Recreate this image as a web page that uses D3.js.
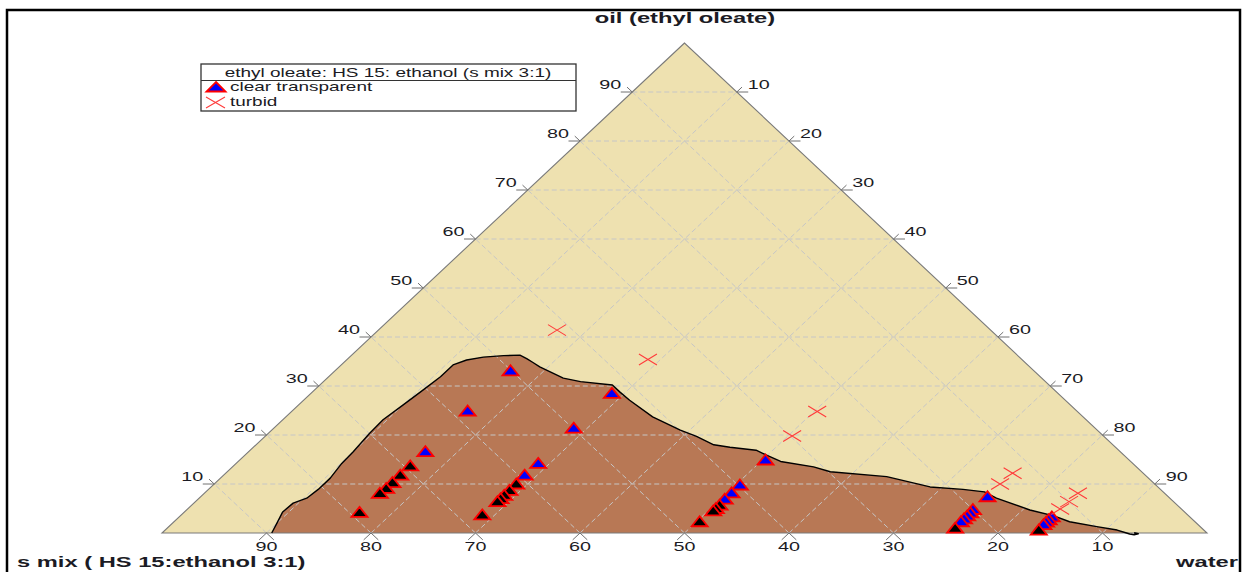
<!DOCTYPE html>
<html>
<head>
<meta charset="utf-8">
<script src="https://cdn.jsdelivr.net/npm/d3@7/dist/d3.min.js"></script>
<style>
  html, body { margin: 0; padding: 0; background: #ffffff; }
  svg { display: block; }
</style>
</head>
<body>
<svg id="chart" width="1249" height="572"></svg>
<script>
// Compositions are [oil %, water %]; s mix % = 100 - oil - water.

// Grid / tick levels shared by all three axes
const tickValues = [10, 20, 30, 40, 50, 60, 70, 80, 90];

// Axis and legend texts
const apexLabel = "oil (ethyl oleate)";
const leftLabel = "s mix ( HS 15:ethanol 3:1)";
const rightLabel = "water";
const legendTitle = "ethyl oleate: HS 15: ethanol (s mix 3:1)";
const legendItems = ["clear transparent", "turbid"];

// Boundary of the clear (single-phase) region, from the s mix side to the water side
const boundary = [
  [0, 10.5], [2.0, 10.0], [4.3, 9.4], [6.1, 9.5], [7.1, 10.3], [8.9, 10.5],
  [11.2, 10.5], [14.2, 10.1], [16.6, 10.0], [20.3, 9.7], [23.1, 9.6], [26.1, 10.0],
  [29.2, 10.4], [31.9, 10.7], [34.3, 10.7], [35.3, 11.5], [35.9, 12.8], [36.2, 14.6],
  [36.3, 16.1], [35.6, 17.1], [34.8, 18.1], [33.9, 19.2], [31.6, 22.6], [30.9, 24.6],
  [30.2, 28.0], [28.8, 29.4], [27.1, 31.2], [23.7, 35.1], [21.0, 39.1], [19.7, 41.3],
  [18.0, 43.8], [17.5, 45.6], [16.9, 48.4], [15.9, 49.9], [14.6, 51.9], [13.5, 55.6],
  [12.5, 57.7], [11.5, 63.6], [9.4, 68.8], [8.9, 72.2], [8.4, 74.5], [7.1, 76.3],
  [4.7, 80.7], [3.5, 83.6], [2.3, 85.7], [1.3, 88.8], [0.6, 91.1], [0, 92.3]
];
// small curl where the boundary line ends on the base
const boundaryTail = [[0, 92.3], [-0.2, 92.7], [-0.35, 93.2], [-0.15, 93.5], [0.05, 93.0]];

// Clear transparent formulations (blue)
const clearTransparent = [
  [33.1, 16.8], [24.9, 16.8], [16.6, 16.9],
  [28.5, 28.8], [21.4, 28.7], [14.2, 28.9], [11.8, 28.8],
  [14.9, 50.3], [9.8, 50.4], [8.2, 50.4], [6.9, 50.4],
  [7.4, 75.3], [4.8, 75.2], [4.1, 75.3], [3.5, 75.3], [2.9, 75.3], [2.3, 75.3],
  [3.3, 83.5], [2.7, 83.5], [2.2, 83.5], [1.7, 83.5]
];

// Clear formulations plotted in black
const clearDark = [
  [13.7, 16.9], [11.8, 16.9], [10.3, 16.9], [9.1, 16.9], [8.1, 16.8], [4.2, 16.8],
  [10.0, 28.9], [8.7, 28.9], [7.7, 28.9], [7.0, 28.9], [6.4, 28.9], [3.7, 28.8],
  [5.7, 50.5], [5.0, 50.5], [4.5, 50.5], [2.3, 50.3],
  [1.0, 75.4], [0.6, 83.6]
];

// Turbid formulations (red crosses)
const turbid = [
  [41.4, 17.1], [35.4, 28.8], [24.8, 50.3], [19.8, 50.4],
  [12.2, 75.3], [10.0, 75.2], [8.1, 83.6], [6.4, 83.6], [4.9, 83.5]
];

// ---------------------------------------------------------------------------
const svg = d3.select("#chart");
const SX = 1.58;                       // horizontal stretch applied to all text
const textColor = "#1b1b24";

// Ternary → screen: horizontal runs with water + oil/2, vertical with oil
const x = d3.scaleLinear().domain([0, 100]).range([162, 1207]);
const y = d3.scaleLinear().domain([0, 100]).range([533, 43]);
const pt = (oil, water) => [x(water + oil / 2), y(oil)];

function addText(g, px, py, str, anchor, size, weight) {
  return g.append("text")
    .attr("transform", `translate(${px},${py}) scale(${SX},1)`)
    .attr("text-anchor", anchor)
    .attr("dy", "0.35em")
    .attr("font-family", "'Liberation Sans', Arial, sans-serif")
    .attr("font-size", size)
    .attr("font-weight", weight || "normal")
    .attr("fill", textColor)
    .text(str);
}

// Outer frame
svg.append("path")
  .attr("d", "M7,600 L7,10 L1240,10 L1240,600")
  .attr("fill", "none").attr("stroke", "#000").attr("stroke-width", 2.5);

// Triangle background
const corners = [pt(100, 0), pt(0, 0), pt(0, 100)];
svg.append("path")
  .attr("d", "M" + corners.join("L") + "Z")
  .attr("fill", "#eee1b0");

// Clear region
const line = d3.line().x(d => pt(d[0], d[1])[0]).y(d => pt(d[0], d[1])[1]);
svg.append("path")
  .attr("d", line(boundary) + "Z")
  .attr("fill", "#b87855");

// Dashed grid: constant oil, constant water, constant s mix
const grid = svg.append("g")
  .attr("stroke", "#c6c6c6").attr("stroke-width", 1)
  .attr("stroke-dasharray", "5,3").attr("fill", "none");
tickValues.forEach(v => {
  const segs = [
    [pt(v, 0), pt(v, 100 - v)],
    [pt(0, v), pt(100 - v, v)],
    [pt(0, 100 - v), pt(100 - v, 0)]
  ];
  segs.forEach(s => grid.append("line")
    .attr("x1", s[0][0]).attr("y1", s[0][1])
    .attr("x2", s[1][0]).attr("y2", s[1][1]));
});

// Triangle edges
svg.append("path")
  .attr("d", "M" + corners.join("L") + "Z")
  .attr("fill", "none").attr("stroke", "#7a7a7a").attr("stroke-width", 1.1);

// Boundary line
svg.append("path")
  .attr("d", line(boundary.concat(boundaryTail.slice(1))))
  .attr("fill", "none").attr("stroke", "#000").attr("stroke-width", 1.4)
  .attr("stroke-linejoin", "round");

// Ticks: short outward extensions of the grid lines at each edge
const ticks = svg.append("g").attr("stroke", "#707070").attr("stroke-width", 1).attr("fill", "none");
const labels = svg.append("g");
function tick(a, b) {
  ticks.append("line").attr("x1", a[0]).attr("y1", a[1]).attr("x2", b[0]).attr("y2", b[1]);
}
tickValues.forEach(v => {
  // left edge (oil axis)
  const L = pt(v, 0);
  tick(L, pt(v, -1.1));
  tick(L, pt(v + 1.0, -1.0));
  addText(labels, L[0] - 11, L[1] - 7, String(v), "end", 12.5);
  // bottom edge (s mix axis)
  const B = pt(0, 100 - v);
  tick(B, pt(-1.4, 100 - v));
  tick(B, pt(-1.4, 100 - v + 1.4));
  addText(labels, B[0], B[1] + 14, String(v), "middle", 12.5);
  // right edge (water axis)
  const R = pt(100 - v, v);
  tick(R, pt(100 - v, v + 1.1));
  tick(R, pt(100 - v + 1.0, v));
  addText(labels, R[0] + 11, R[1] - 7, String(v), "start", 12.5);
});

// Axis titles
addText(svg, 685, 18, apexLabel, "middle", 15, "bold");
addText(svg, 17, 562, leftLabel, "start", 15, "bold");
addText(svg, 1238, 562, rightLabel, "end", 15, "bold");

// Markers
const triPath = "M0,-5.5L8,4.5L-8,4.5Z";
const crossPath = "M-9,-5.5L9,5.5M-9,5.5L9,-5.5";
const byOilDesc = arr => arr.slice().sort((a, b) => b[0] - a[0]);

const marks = svg.append("g");
marks.selectAll("path.clear")
  .data(byOilDesc(clearTransparent)).enter().append("path")
  .attr("class", "clear")
  .attr("transform", d => `translate(${pt(d[0], d[1])})`)
  .attr("d", triPath)
  .attr("fill", "#0000ff").attr("stroke", "#ff0000").attr("stroke-width", 1.8)
  .attr("stroke-linejoin", "miter");
marks.selectAll("path.dark")
  .data(byOilDesc(clearDark)).enter().append("path")
  .attr("class", "dark")
  .attr("transform", d => `translate(${pt(d[0], d[1])})`)
  .attr("d", triPath)
  .attr("fill", "#000000").attr("stroke", "#ff0000").attr("stroke-width", 1.8);
marks.selectAll("path.turbid")
  .data(turbid).enter().append("path")
  .attr("class", "turbid")
  .attr("transform", d => `translate(${pt(d[0], d[1])})`)
  .attr("d", crossPath)
  .attr("fill", "none").attr("stroke", "#ff3b3b").attr("stroke-width", 1.1);

// Legend
const lg = svg.append("g");
lg.append("rect").attr("x", 201).attr("y", 64).attr("width", 375).attr("height", 47)
  .attr("fill", "#fff").attr("stroke", "#333").attr("stroke-width", 1.3);
lg.append("line").attr("x1", 201).attr("x2", 576).attr("y1", 80.5).attr("y2", 80.5)
  .attr("stroke", "#333").attr("stroke-width", 1.2);
addText(lg, 388, 72.5, legendTitle, "middle", 12);
lg.append("path").attr("transform", "translate(216,87)").attr("d", "M0,-5L9.5,4.5L-9.5,4.5Z")
  .attr("fill", "#0000ff").attr("stroke", "#ff0000").attr("stroke-width", 1.8);
addText(lg, 230, 87, legendItems[0], "start", 12);
lg.append("path").attr("transform", "translate(215.5,102.5)").attr("d", "M-9.5,-5.5L9.5,5.5M-9.5,5.5L9.5,-5.5")
  .attr("fill", "none").attr("stroke", "#ff3b3b").attr("stroke-width", 1.1);
addText(lg, 230, 102, legendItems[1], "start", 12);
</script>
</body>
</html>
